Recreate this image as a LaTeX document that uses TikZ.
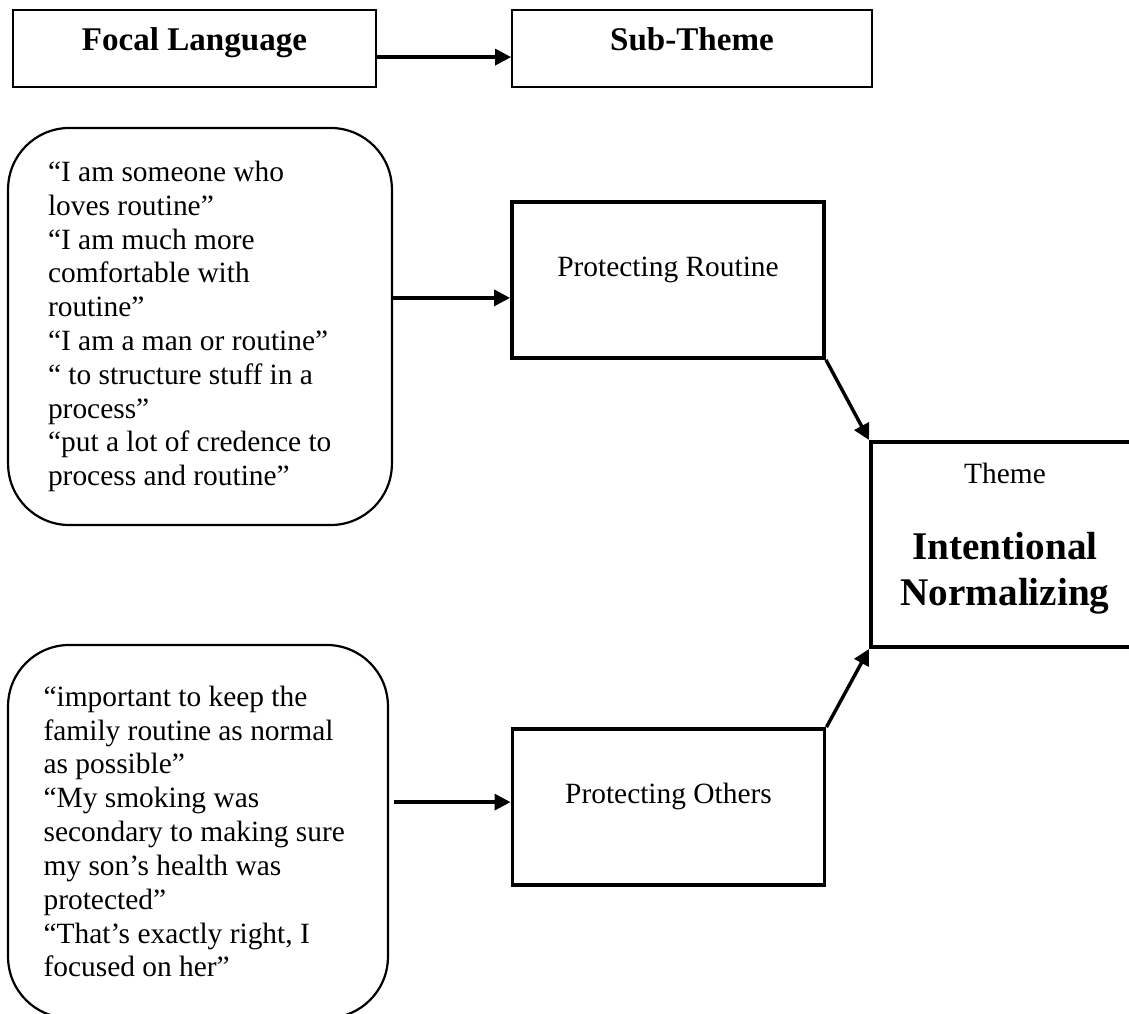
\documentclass[tikz,border=0pt]{standalone}
\usepackage{fontspec}
\setmainfont{Liberation Serif}
\usetikzlibrary{positioning,arrows.meta}

\begin{document}
\begin{tikzpicture}[x=0.408pt,y=-0.408pt,
    headbox/.style={draw,line width=0.7pt,inner sep=0pt,minimum width=148.1pt,
      text height=16.7pt,text depth=14.7pt,font=\fontsize{13.5}{15.5}\selectfont\bfseries},
    quotebox/.style={draw,line width=0.9pt,rounded corners=25pt,align=left,
      inner ysep=0pt,font=\fontsize{12}{13.8}\selectfont,
      execute at begin node={\spaceskip=3pt\relax}},
    subbox/.style={draw,line width=1.6pt,inner sep=0pt,minimum width=127.3pt,
      text height=30.4pt,text depth=33.2pt,font=\fontsize{12}{13.8}\selectfont},
    link/.style={line width=1.4pt,-{Triangle[length=6.5pt,width=6.5pt]}}]

    % Page frame
    \useasboundingbox (0,0) rectangle (1129,1014);

    % Header row
    \node[headbox] (focal) at (194.5,48.5) {Focal Language};
    \node[headbox,minimum width=146.9pt] (sub) at (692,48.5) {Sub-Theme};

    % Focal language quotes
    \node[quotebox,text width=124pt,inner xsep=16.3pt,minimum height=162pt] (q1) at (200,326.5)
      {``I am someone who\\ loves routine''\\ ``I am much more\\ comfortable with\\ routine''\\
       ``I am a man or routine''\\ `` to structure stuff in a\\ process''\\
       ``put a lot of credence to\\ process and routine''};
    \node[quotebox,text width=126pt,inner xsep=14.5pt,minimum height=152.2pt] (q2) at (198,831.5)
      {``important to keep the\\ family routine as normal\\ as possible''\\ ``My smoking was\\
       secondary to making sure\\ my son’s health was\\ protected''\\
       ``That’s exactly right, I\\ focused on her''};

    % Sub-themes
    \node[subbox] (pr) at (668,280) {Protecting Routine};
    \node[subbox] (po) at (668.5,807) {Protecting Others};

    % Theme
    \node[draw,line width=1.6pt,minimum width=109.3pt,minimum height=83.6pt,align=center,
      font=\fontsize{12}{13.8}\selectfont] (theme) at (1005,544.5)
      {Theme\\[17.6pt]{\fontsize{16}{18.4}\selectfont\bfseries Intentional}\\[4.9pt]
       {\fontsize{16}{18.4}\selectfont\bfseries Normalizing\rule[-8.4pt]{0pt}{1pt}}};

    % Connectors
    \draw[link] ([yshift=-3.5pt]focal.east) -- ([yshift=-3.5pt]sub.west);
    \coordinate (inR) at ([yshift=-7.3pt]pr.west);
    \draw[link] (q1.east |- inR) -- (inR);
    \coordinate (inO) at ([yshift=2pt]po.west);
    \draw[link,shorten <=2pt] (q2.east |- inO) -- (inO);
    \draw[link] (pr.south east) -- (theme.north west);
    \draw[link] (po.north east) -- (theme.south west);

\end{tikzpicture}
\end{document}
